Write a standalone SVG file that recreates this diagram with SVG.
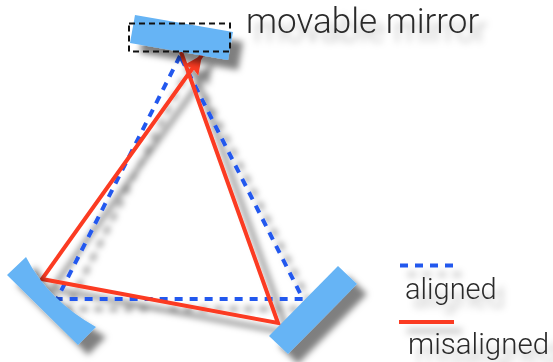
<svg xmlns="http://www.w3.org/2000/svg" width="553" height="362" viewBox="0 0 553 362">
<defs>
<filter id="sh" filterUnits="userSpaceOnUse" x="0" y="0" width="553" height="362"><feGaussianBlur in="SourceGraphic" stdDeviation="0.5" result="s"/><feDropShadow in="s" dx="10" dy="10" stdDeviation="3" flood-color="#000" flood-opacity="0.5"/></filter>
<filter id="ts" filterUnits="userSpaceOnUse" x="0" y="0" width="553" height="362"><feGaussianBlur in="SourceGraphic" stdDeviation="0.4" result="s"/><feDropShadow in="s" dx="8" dy="9" stdDeviation="3.5" flood-color="#000" flood-opacity="0.28"/></filter>
<marker id="ah" markerUnits="userSpaceOnUse" markerWidth="22" markerHeight="22" refX="19" refY="10" orient="auto"><path d="M0 1L19 10L0 19L3 10Z" fill="#fb3b22"/></marker>
</defs>
<style>
.m{fill:#66b4f5}
.b{fill:none;stroke:#2458ee;stroke-width:4;stroke-dasharray:8 7}
.r{fill:none;stroke:#fb3b22;stroke-width:4}
text{font-family:Roboto,"Liberation Sans",sans-serif;font-weight:300;fill:#2c2c2c}
</style>
<rect width="553" height="362" fill="#fff"/>
<g id="connectors" filter="url(#sh)">
<path class="b" d="M180 56L57 299H303L180 56"/>
<path class="r" d="M181 52L278 323L42 279L202 55" marker-end="url(#ah)"/>
</g>
<g id="movable-mirror">
<path class="m" d="M135 15L233 32L228 60L130 43Z" filter="url(#sh)"/>
<rect x="129" y="23.500" width="101" height="28" fill="none" stroke="#111" stroke-width="2" stroke-dasharray="6 4"/>
</g>
<g id="left-mirror"><path class="m" d="M26 257Q48 300 96 327L78 345L7 275Z" filter="url(#sh)"/></g>
<g id="right-mirror"><path class="m" d="M338 266L357 284L288 354L269 336Z" filter="url(#sh)"/></g>
<g id="label-movable" filter="url(#ts)"><text x="246" y="33" font-size="35">movable mirror</text></g>
<g id="legend-aligned">
<path d="M400 265.500H455" fill="none" stroke="#2458ee" stroke-width="4" stroke-dasharray="8 7" filter="url(#ts)"/>
<text x="405" y="299" font-size="29" filter="url(#ts)">aligned</text>
</g>
<g id="legend-misaligned">
<path d="M399 322H454" fill="none" stroke="#fb3b22" stroke-width="4" filter="url(#ts)"/>
<text x="408" y="354" font-size="29.500" filter="url(#ts)">misaligned</text>
</g>
</svg>
